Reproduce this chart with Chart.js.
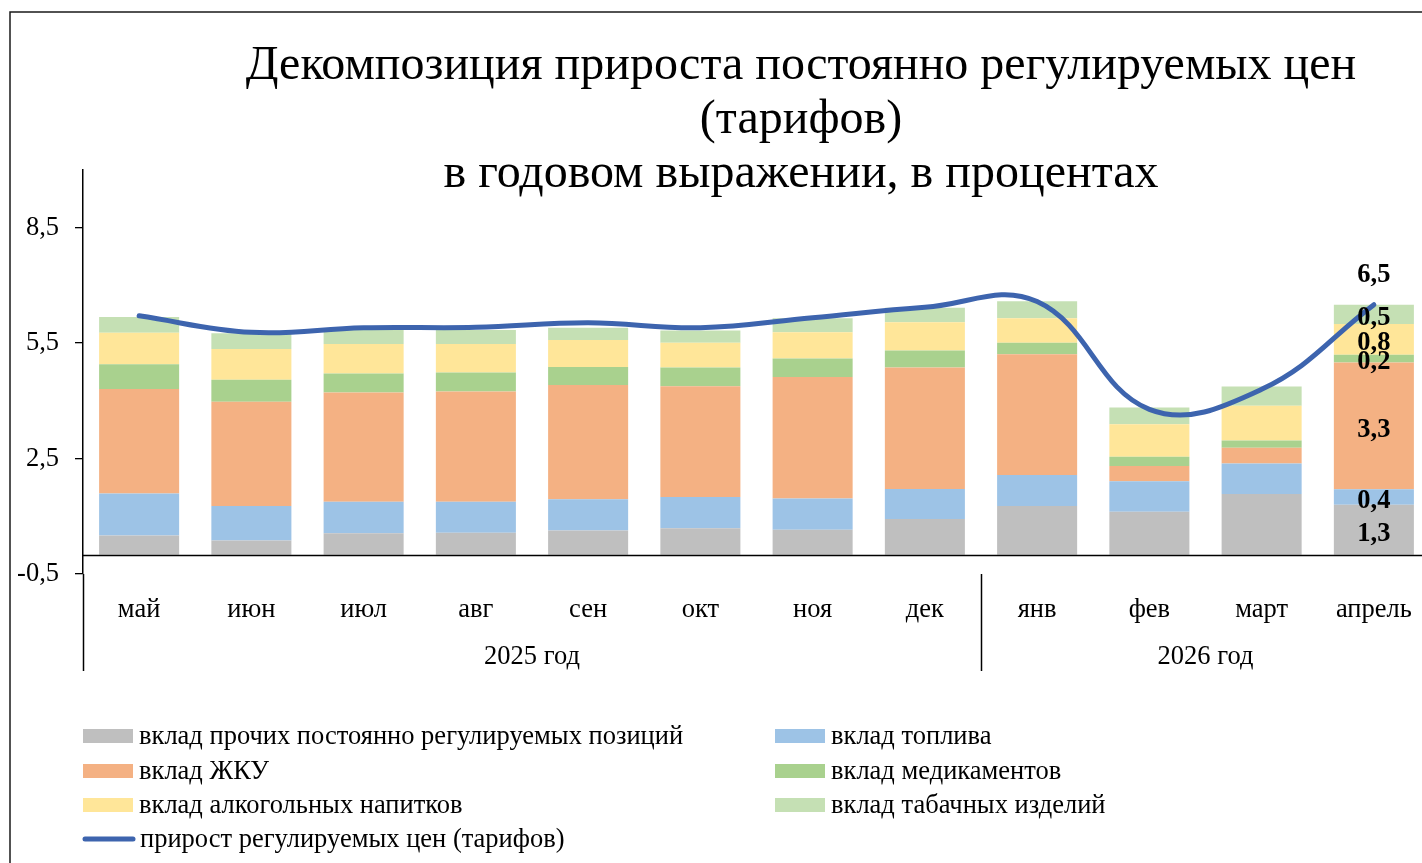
<!DOCTYPE html>
<html>
<head>
<meta charset="utf-8">
<script src="https://cdn.jsdelivr.net/npm/chart.js@4.4.1/dist/chart.umd.min.js"></script>
<style>
  html, body { margin: 0; padding: 0; background: #fff; overflow: hidden; width: 1422px; height: 863px; }
  #wrap { position: absolute; left: 0; top: 0; width: 1440px; height: 863px; }
</style>
</head>
<body>
<div id="wrap"><canvas id="c" width="1440" height="863"></canvas></div>
<script>
// ---- data ----
const categories = ['май','июн','июл','авг','сен','окт','ноя','дек','янв','фев','март','апрель'];
const yearLabels = ['2025 год', '2026 год'];
const yearSpans = [8, 4];
const yTicks = [-0.5, 2.5, 5.5, 8.5];

const otherRegulated = [0.50, 0.37, 0.56, 0.57, 0.63, 0.69, 0.65, 0.93, 1.27, 1.12, 1.58, 1.3];
const fuel           = [1.09, 0.90, 0.82, 0.81, 0.81, 0.81, 0.81, 0.78, 0.80, 0.79, 0.79, 0.4];
const housing        = [2.72, 2.71, 2.84, 2.86, 2.97, 2.88, 3.16, 3.16, 3.14, 0.40, 0.41, 3.3];
const medicines      = [0.64, 0.57, 0.49, 0.50, 0.47, 0.49, 0.48, 0.44, 0.30, 0.24, 0.19, 0.2];
const alcohol        = [0.82, 0.80, 0.77, 0.74, 0.70, 0.64, 0.68, 0.73, 0.64, 0.84, 0.90, 0.8];
const tobacco        = [0.41, 0.41, 0.37, 0.36, 0.32, 0.32, 0.37, 0.38, 0.44, 0.44, 0.50, 0.5];
const totalGrowth    = [6.21, 5.78, 5.90, 5.91, 6.03, 5.90, 6.16, 6.43, 6.58, 3.78, 4.30, 6.5];

const titleLines = ['Декомпозиция прироста постоянно регулируемых цен', '(тарифов)', 'в годовом выражении, в процентах'];

const FONT = "'Liberation Serif', 'Times New Roman', serif";
const fmt = v => v.toFixed(1).replace('.', ',');

const barSeries = [
  { label: 'вклад прочих постоянно регулируемых позиций', data: otherRegulated, color: '#BFBFBF' },
  { label: 'вклад топлива', data: fuel, color: '#9DC3E6' },
  { label: 'вклад ЖКУ', data: housing, color: '#F4B183' },
  { label: 'вклад медикаментов', data: medicines, color: '#A9D18E' },
  { label: 'вклад алкогольных напитков', data: alcohol, color: '#FFE699' },
  { label: 'вклад табачных изделий', data: tobacco, color: '#C5E0B4' }
];
const LINE_COLOR = '#3D64AE';

const datasets = barSeries.map(s => ({
  type: 'bar', label: s.label, data: s.data, backgroundColor: s.color,
  borderWidth: 0, stack: 'bars', order: 1,
  categoryPercentage: 1, barPercentage: 0.713
}));
datasets.push({
  type: 'line', label: 'прирост регулируемых цен (тарифов)', data: totalGrowth,
  borderColor: LINE_COLOR, backgroundColor: LINE_COLOR, borderWidth: 5,
  pointRadius: 0, tension: 0.4, stack: 'line', order: 0, borderCapStyle: 'round'
});

const decorPlugin = {
  id: 'decor',
  beforeDraw(chart) {
    const ctx = chart.ctx;
    ctx.save();
    ctx.fillStyle = '#fff';
    ctx.fillRect(0, 0, chart.width, chart.height);
    ctx.restore();
  },
  afterDatasetsDraw(chart) {
    const ctx = chart.ctx;
    const ca = chart.chartArea;
    const y = chart.scales.y;
    ctx.save();
    const y0 = Math.round(y.getPixelForValue(0)) + 0.5;
    ctx.strokeStyle = '#000'; ctx.lineWidth = 1.5;
    ctx.beginPath(); ctx.moveTo(ca.left, y0); ctx.lineTo(ca.right, y0); ctx.stroke();
    const last = categories.length - 1;
    ctx.fillStyle = '#000';
    ctx.font = "bold 26.5px " + FONT;
    ctx.textAlign = 'center'; ctx.textBaseline = 'middle';
    barSeries.forEach((s, i) => {
      const el = chart.getDatasetMeta(i).data[last];
      const cy = (el.y + el.base) / 2;
      ctx.fillText(fmt(s.data[last]), el.x, cy + 4);
    });
    const lp = chart.getDatasetMeta(barSeries.length).data[last];
    ctx.fillText(fmt(totalGrowth[last]), lp.x, lp.y - 30);
    ctx.restore();
  },
  afterDraw(chart) {
    const ctx = chart.ctx;
    const ca = chart.chartArea;
    ctx.save();
    // outer frame (cropped)
    ctx.strokeStyle = '#1a1a1a'; ctx.lineWidth = 1.5;
    ctx.beginPath(); ctx.moveTo(10, chart.height + 2); ctx.lineTo(10, 12); ctx.lineTo(chart.width + 2, 12); ctx.stroke();
    // axis extension and group separators
    ctx.strokeStyle = '#000'; ctx.lineWidth = 1.5;
    const catW = (ca.right - ca.left) / categories.length;
    let idx = 0;
    const bounds = [0];
    yearSpans.forEach(n => { idx += n; bounds.push(idx); });
    bounds.forEach((b, k) => {
      if (k === bounds.length - 1) return;
      const px = Math.round(ca.left + b * catW) + 0.5;
      ctx.beginPath(); ctx.moveTo(px, ca.bottom); ctx.lineTo(px, 671); ctx.stroke();
    });
    // year labels
    ctx.fillStyle = '#000';
    ctx.font = "26.5px " + FONT;
    ctx.textAlign = 'center'; ctx.textBaseline = 'middle';
    yearLabels.forEach((lab, k) => {
      const cx = ca.left + (bounds[k] + bounds[k + 1]) / 2 * catW;
      ctx.fillText(lab, cx, 657);
    });
    // title
    ctx.font = "48px " + FONT;
    ctx.textBaseline = 'alphabetic';
    const tb = [79, 133, 187];
    titleLines.forEach((t, k) => ctx.fillText(t, 801, tb[k]));
    // legend
    ctx.font = "26.5px " + FONT;
    ctx.textAlign = 'left'; ctx.textBaseline = 'middle';
    const cols = [83, 775];
    const rows = [736, 771, 805, 839];
    barSeries.forEach((s, i) => {
      const cx = cols[i % 2], cy = rows[Math.floor(i / 2)];
      ctx.fillStyle = s.color;
      ctx.fillRect(cx, cy - 7, 50, 14);
      ctx.fillStyle = '#000';
      ctx.fillText(s.label, cx + 56, cy + 1);
    });
    const ly = rows[3];
    ctx.strokeStyle = LINE_COLOR; ctx.lineWidth = 5; ctx.lineCap = 'round';
    ctx.beginPath(); ctx.moveTo(cols[0] + 2, ly); ctx.lineTo(cols[0] + 50, ly); ctx.stroke();
    ctx.fillStyle = '#000';
    ctx.fillText(datasets[datasets.length - 1].label, cols[0] + 57, ly + 1);
    ctx.restore();
  }
};

new Chart(document.getElementById('c'), {
  data: { labels: categories, datasets },
  options: {
    responsive: false,
    animation: false,
    layout: { padding: { top: 170, right: 10, bottom: 0, left: 0 } },
    plugins: { legend: { display: false }, title: { display: false }, tooltip: { enabled: false } },
    scales: {
      x: {
        stacked: true,
        grid: { display: false },
        border: { display: false },
        ticks: { color: '#000', font: { family: FONT, size: 26.5 }, padding: 12, maxRotation: 0, autoSkip: false },
        afterFit: s => { s.height = 863 - 574; }
      },
      y: {
        stacked: true,
        min: -0.5, max: 10,
        afterBuildTicks: s => { s.ticks = yTicks.map(v => ({ value: v })); },
        afterFit: s => { s.width = 83; },
        grid: { drawOnChartArea: false, drawTicks: true, tickLength: 8, color: '#000', lineWidth: 1.3 },
        border: { display: true, color: '#000', width: 1.5 },
        ticks: { color: '#000', font: { family: FONT, size: 26.5 }, padding: 16, callback: v => fmt(v) }
      }
    }
  },
  plugins: [decorPlugin]
});
</script>
</body>
</html>
